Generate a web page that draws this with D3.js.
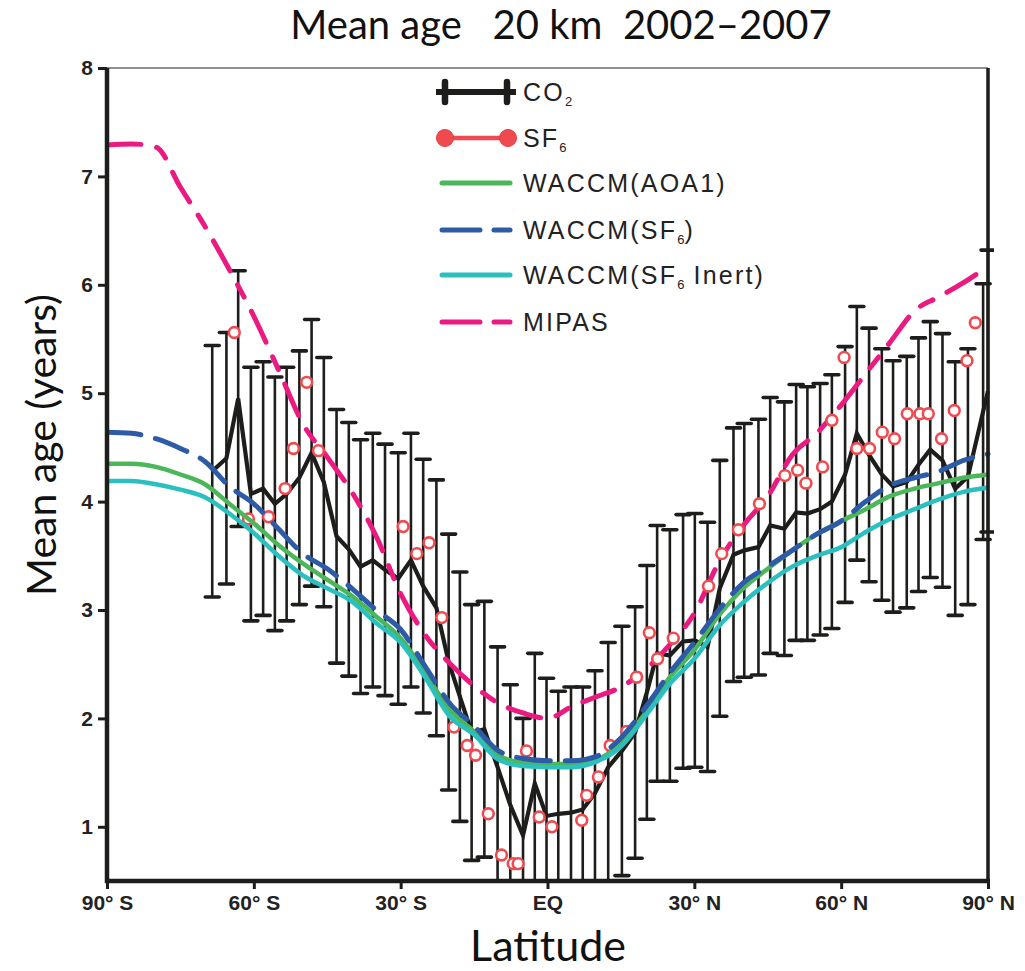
<!DOCTYPE html>
<html><head><meta charset="utf-8">
<script src="https://cdn.jsdelivr.net/npm/d3@7"></script>
<style>body{margin:0;background:#fff} svg{display:block}</style>
</head><body>
<svg id="chart" width="1025" height="971"></svg>
<script>
// ---------------- DATA ----------------
const co2Lat = [-68.5,-65.6,-63.2,-60.6,-58.1,-55.7,-53.3,-50.7,-48.2,-45.7,-43.1,-40.6,-38.2,-35.7,-33.2,-30.5,-27.9,-25.4,-22.7,-20.2,-17.9,-15.5,-12.9,-10.2,-7.6,-5.0,-2.6,-0.2,2.2,4.8,7.2,9.7,12.4,15.2,17.9,20.3,22.4,25.0,27.7,30.1,32.7,35.2,38.0,40.2,43.1,45.5,48.4,50.8,53.1,55.7,58.1,60.8,63.2,65.7,68.3,70.6,73.4,75.8,78.2,80.7,83.3,85.9,89.0,90];
const co2Mean = [4.28,4.40,4.95,4.07,4.12,3.98,4.07,4.22,4.45,4.18,3.68,3.56,3.40,3.46,3.37,3.29,3.46,3.22,3.02,2.52,2.20,1.87,1.90,1.55,1.20,0.92,1.40,1.10,1.12,1.13,1.16,1.31,1.55,1.70,1.87,2.24,2.60,2.58,2.71,2.72,2.66,3.20,3.51,3.55,3.58,3.78,3.75,3.90,3.89,3.93,4.00,4.25,4.63,4.43,4.25,4.14,4.18,4.34,4.48,4.38,4.12,4.23,4.83,5.02];
const co2Err = [1.16,1.16,1.18,1.17,1.17,1.17,1.17,1.17,1.23,1.15,1.17,1.17,1.17,1.17,1.16,1.16,1.17,1.17,1.18,1.18,1.15,1.18,1.18,1.11,1.11,1.08,1.20,1.27,1.13,1.16,1.13,1.13,1.15,1.15,1.16,1.17,1.18,1.16,1.17,1.17,1.15,1.18,1.17,1.17,1.18,1.18,1.17,1.18,1.17,1.16,1.17,1.18,1.17,1.17,1.16,1.16,1.16,1.17,1.18,1.17,1.17,1.18,1.18,1.30];

const sf6Lat = [-64.0,-61.1,-57.0,-53.6,-51.9,-49.2,-46.8,-29.5,-26.7,-24.2,-21.6,-19.1,-16.4,-14.7,-12.1,-9.4,-7.0,-6.0,-4.3,-1.7,0.9,7.0,8.0,10.4,12.8,16.2,18.2,20.8,22.5,25.7,32.9,35.6,39.0,43.3,48.5,51.1,52.8,56.2,58.1,60.6,63.2,65.8,68.4,70.9,73.5,76.1,77.8,80.5,83.1,85.7,87.4];
const sf6Age = [5.56,3.84,3.86,4.12,4.49,5.10,4.47,3.77,3.52,3.62,2.93,1.92,1.75,1.66,1.12,0.74,0.66,0.66,1.70,1.09,1.00,1.06,1.29,1.46,1.75,1.88,2.38,2.79,2.55,2.74,3.22,3.52,3.74,3.98,4.24,4.29,4.17,4.32,4.75,5.33,4.49,4.49,4.64,4.58,4.81,4.81,4.81,4.58,4.84,5.30,5.65];

const modelLat = [-90,-85,-80,-75,-70,-65,-60,-55,-50,-45,-40,-35,-30,-25,-20,-15,-10,-5,0,5,10,15,20,25,30,35,40,45,50,55,60,65,70,75,80,85,90];
const waccmAoa1 = [4.35,4.35,4.32,4.25,4.16,3.98,3.80,3.60,3.43,3.28,3.13,2.94,2.74,2.42,2.08,1.88,1.66,1.59,1.58,1.58,1.62,1.77,2.05,2.38,2.63,2.95,3.20,3.38,3.55,3.70,3.82,3.93,4.05,4.12,4.17,4.22,4.25];
const waccmSf6 = [4.64,4.63,4.58,4.49,4.37,4.14,3.98,3.75,3.52,3.38,3.20,3.00,2.82,2.48,2.14,1.93,1.70,1.63,1.61,1.61,1.65,1.82,2.10,2.42,2.70,3.00,3.25,3.40,3.55,3.70,3.82,4.00,4.15,4.22,4.28,4.38,4.44];
const waccmSf6Inert = [4.19,4.19,4.16,4.11,4.04,3.89,3.71,3.50,3.32,3.20,3.08,2.88,2.70,2.38,2.02,1.85,1.62,1.56,1.55,1.55,1.60,1.74,2.02,2.32,2.55,2.85,3.07,3.25,3.40,3.50,3.58,3.72,3.84,3.93,4.02,4.09,4.13];
const mipas = [7.29,7.30,7.27,6.90,6.54,6.14,5.71,5.22,4.72,4.41,4.09,3.68,3.15,2.77,2.51,2.30,2.14,2.05,2.00,2.11,2.20,2.29,2.45,2.68,2.97,3.44,3.78,4.05,4.43,4.63,4.89,5.18,5.47,5.76,5.89,6.02,6.17];

const xTickValues = [-90,-60,-30,0,30,60,90];
const xTickLabels = ["90° S","60° S","30° S","EQ","30° N","60° N","90° N"];
const yTickValues = [1,2,3,4,5,6,7,8];

// ---------------- STYLE ----------------
const C = {black:"#1d1d1b", red:"#ef4a50", green:"#4cb65a", blue:"#2d5ba8", teal:"#2cbfbf", pink:"#ea1a80"};
const W = 1025, H = 971;
const m = {left:107, right:37, top:68, bottom:90};

const svg = d3.select("#chart");
const x = d3.scaleLinear().domain([-90,90]).range([m.left, W - m.right]);
const y = d3.scaleLinear().domain([0.5,8]).range([H - m.bottom, m.top]);

svg.append("defs").append("clipPath").attr("id","plotclip")
  .append("rect").attr("x", m.left).attr("y", m.top - 10)
  .attr("width", W - m.left - m.right + 6).attr("height", H - m.top - m.bottom + 10);

const plot = svg.append("g").attr("clip-path","url(#plotclip)");

// CO2 error bars
const co2 = co2Lat.map((lat,i)=>({lat, v:co2Mean[i], e:co2Err[i]}));
const bars = plot.append("g");
co2.forEach(d=>{
  const lo = d.v - d.e, hi = d.v + d.e;
  bars.append("line").attr("x1",x(d.lat)).attr("x2",x(d.lat))
    .attr("y1",y(Math.max(lo,0.5))).attr("y2",y(hi))
    .attr("stroke",C.black).attr("stroke-width",2.6);
  [lo,hi].forEach(v=>{
    if (v >= 0.5) bars.append("line").attr("x1",x(d.lat)-7).attr("x2",x(d.lat)+7)
      .attr("y1",y(v)).attr("y2",y(v)).attr("stroke",C.black).attr("stroke-width",3.6)
      .attr("stroke-linecap","round");
  });
});
plot.append("path").datum(co2)
  .attr("d", d3.line().x(d=>x(d.lat)).y(d=>y(d.v)))
  .attr("fill","none").attr("stroke",C.black).attr("stroke-width",4.2).attr("stroke-linejoin","miter");

const model = (arr)=> modelLat.map((lat,i)=>({lat, v:arr[i]}));
const mline = d3.line().x(d=>x(d.lat)).y(d=>y(d.v)).curve(d3.curveMonotoneX);

// MIPAS
plot.append("path").datum(model(mipas)).attr("d", mline)
  .attr("fill","none").attr("stroke",C.pink).attr("stroke-width",5)
  .attr("stroke-dasharray","34,16,14,16").attr("stroke-linecap","round");

// SF6 circles
plot.append("g").selectAll("circle").data(sf6Lat.map((lat,i)=>({lat, v:sf6Age[i]})))
  .join("circle").attr("cx",d=>x(d.lat)).attr("cy",d=>y(d.v)).attr("r",5.4)
  .attr("fill","#fff").attr("stroke",C.red).attr("stroke-width",2.6);

// WACCM lines
plot.append("path").datum(model(waccmAoa1)).attr("d", mline)
  .attr("fill","none").attr("stroke",C.green).attr("stroke-width",4.5);
plot.append("path").datum(model(waccmSf6Inert)).attr("d", mline)
  .attr("fill","none").attr("stroke",C.teal).attr("stroke-width",4.5);
plot.append("path").datum(model(waccmSf6)).attr("d", mline)
  .attr("fill","none").attr("stroke",C.blue).attr("stroke-width",5)
  .attr("stroke-dasharray","34,15").attr("stroke-linecap","round");

// ---------------- FRAME & AXES ----------------
svg.append("line").attr("x1",m.left).attr("x2",W-m.right).attr("y1",m.top).attr("y2",m.top)
  .attr("stroke","#6b6b6b").attr("stroke-width",1.6);
svg.append("line").attr("x1",W-m.right).attr("x2",W-m.right).attr("y1",m.top).attr("y2",H-m.bottom)
  .attr("stroke",C.black).attr("stroke-width",3.5);

const yAxis = svg.append("g").attr("transform",`translate(${m.left},0)`)
  .call(d3.axisLeft(y).tickValues(yTickValues).tickSize(9).tickPadding(5).tickFormat(d3.format("d")));
yAxis.select(".domain").attr("stroke",C.black).attr("stroke-width",4.5)
  .attr("d",`M0,${m.top}V${H-m.bottom+2}`);
yAxis.selectAll(".tick line").attr("stroke",C.black).attr("stroke-width",3);
yAxis.selectAll(".tick text").attr("font-family","Liberation Sans, Arial, sans-serif")
  .attr("font-weight","bold").attr("font-size",21).attr("fill","#222");

const xAxis = svg.append("g").attr("transform",`translate(0,${H-m.bottom})`)
  .call(d3.axisBottom(x).tickValues(xTickValues).tickSize(8).tickPadding(6)
    .tickFormat((d,i)=>xTickLabels[i]));
xAxis.select(".domain").attr("stroke",C.black).attr("stroke-width",4.5)
  .attr("d",`M${m.left-2},0H${W-m.right+2}`);
xAxis.selectAll(".tick line").attr("stroke",C.black).attr("stroke-width",3);
xAxis.selectAll(".tick text").attr("font-family","Liberation Sans Narrow, Liberation Sans, Arial, sans-serif")
  .attr("font-weight","bold").attr("font-size",21).attr("fill","#222");

// ---------------- TEXT ----------------
svg.append("text").attr("x",561).attr("y",39).attr("text-anchor","middle")
  .attr("font-family","Lato, Open Sans, sans-serif").attr("font-size",40).attr("fill","#111")
  .attr("xml:space","preserve").text("Mean age   20 km  2002–2007");
svg.append("text").attr("x",548).attr("y",961).attr("text-anchor","middle")
  .attr("font-family","Lato, Open Sans, sans-serif").attr("font-size",43).attr("fill","#111")
  .text("Latitude");
svg.append("text").attr("transform","translate(56,445) rotate(-90)").attr("text-anchor","middle")
  .attr("font-family","Lato, Open Sans, sans-serif").attr("font-size",41).attr("fill","#111")
  .text("Mean age (years)");

// ---------------- LEGEND ----------------
const lg = svg.append("g");
const legX1 = 442, legX2 = 510, textX = 523;
const rows = [
  {y:92, type:"co2", label:["CO","2",""]},
  {y:138, type:"sf6", label:["SF","6",""]},
  {y:183, type:"solid", color:C.green, label:["WACCM(AOA1)"]},
  {y:230, type:"dash", color:C.blue, label:["WACCM(SF","6",")"]},
  {y:275, type:"solid", color:C.teal, label:["WACCM(SF","6"," Inert)"]},
  {y:322, type:"dash", color:C.pink, label:["MIPAS"]}
];
rows.forEach(r=>{
  if (r.type==="co2"){
    lg.append("line").attr("x1",436).attr("x2",516).attr("y1",r.y).attr("y2",r.y)
      .attr("stroke",C.black).attr("stroke-width",6);
    [445,507].forEach(cx=> lg.append("line").attr("x1",cx).attr("x2",cx)
      .attr("y1",r.y-10).attr("y2",r.y+10).attr("stroke",C.black).attr("stroke-width",6.5)
      .attr("stroke-linecap","round"));
  } else if (r.type==="sf6"){
    lg.append("line").attr("x1",445).attr("x2",508).attr("y1",r.y).attr("y2",r.y)
      .attr("stroke",C.red).attr("stroke-width",4.5);
    [445,508].forEach(cx=> lg.append("circle").attr("cx",cx).attr("cy",r.y).attr("r",8.5)
      .attr("fill",C.red).attr("stroke","#e23d44").attr("stroke-width",1));
  } else {
    lg.append("line").attr("x1",legX1).attr("x2",legX2).attr("y1",r.y).attr("y2",r.y)
      .attr("stroke",r.color).attr("stroke-width",5).attr("stroke-linecap","round")
      .attr("stroke-dasharray", r.type==="dash" ? "38,14" : null);
  }
  const t = lg.append("text").attr("x",textX).attr("y",r.y+8.5)
    .attr("font-family","Liberation Sans, Arial, sans-serif").attr("font-size",25)
    .attr("letter-spacing",2.2).attr("fill","#222");
  t.append("tspan").text(r.label[0]);
  if (r.label.length>1){
    t.append("tspan").attr("font-size",13).attr("dy",5).attr("letter-spacing",0).text(r.label[1]);
    t.append("tspan").attr("dy",-5).text(r.label[2]);
  }
});
</script>
</body></html>
